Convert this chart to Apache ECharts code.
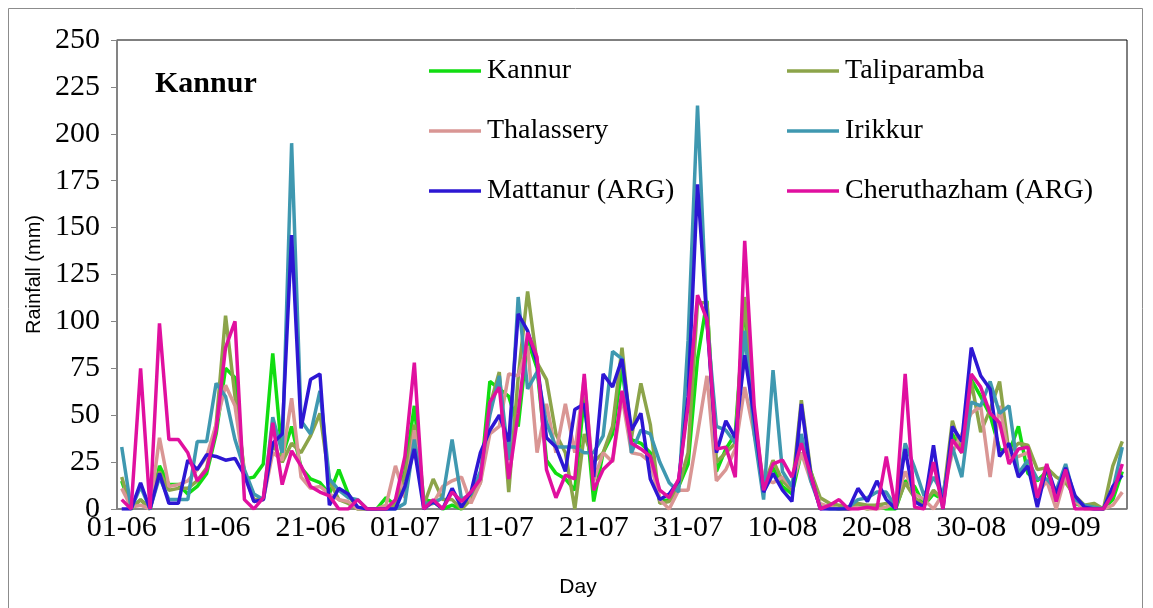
<!DOCTYPE html>
<html><head><meta charset="utf-8">
<script src="https://cdn.jsdelivr.net/npm/echarts@6/dist/echarts.min.js"></script>
<style>html,body{margin:0;padding:0;background:#fff}#c{width:1153px;height:608px}</style>
</head><body><div id="c"></div>
<script>
// categories: 01-06 ... 15-09
const categories = (function(){
  const out = [];
  const months = [["06",30],["07",31],["08",31],["09",15]];
  for (const [m,n] of months) for (let d=1; d<=n; d++) out.push((d<10?"0":"")+d+"-"+m);
  return out;
})();
const kannur = [15,0,5,0,23,13,13,8,12,19,40,75,70,16,17,24,83,28,44,22,16,14,8,21,8,0,0,0,6,2,20,55,5,4,0,2,0,7,15,68,64,60,44,90,75,26,19,16,10,60,4,30,40,75,37,35,30,4,5,12,24,80,111,20,32,40,110,45,12,22,12,8,30,20,2,1,0,0,2,0,2,0,0,15,12,2,8,5,40,30,69,60,50,32,30,44,19,15,20,8,18,3,1,1,0,5,20];
const taliparamba = [17,0,5,0,20,10,11,11,15,22,45,103,60,20,5,5,35,25,35,30,39,51,15,5,3,0,0,0,0,2,18,45,2,16,5,5,0,5,14,55,73,9,70,116,78,69,40,30,0,40,25,30,44,86,38,67,45,3,4,12,30,110,110,25,30,35,113,50,12,26,15,10,58,20,6,3,2,1,3,2,2,3,1,14,6,2,10,5,47,30,68,41,53,68,30,35,34,21,22,17,14,7,2,3,0,23,36];
const thalassery = [11,1,2,0,38,12,13,15,21,28,45,66,55,19,4,5,30,26,59,17,11,12,8,5,4,0,0,0,2,23,6,42,1,3,12,15,17,3,14,40,44,72,71,87,30,56,30,56,30,70,15,30,25,60,30,29,25,5,0,10,10,40,71,15,21,32,65,40,16,14,17,12,30,15,3,1,0,0,1,0,0,1,4,20,8,5,0,8,30,40,51,55,17,55,28,28,30,8,15,0,18,4,0,0,0,2,9];
const irikkur = [33,0,12,0,17,5,5,5,36,36,67,60,37,21,8,5,49,30,195,47,40,63,16,10,6,5,0,0,0,0,3,37,3,3,6,37,5,8,20,50,71,26,113,64,73,46,33,33,33,30,30,39,84,80,30,42,40,25,14,9,90,215,100,44,42,35,95,40,5,74,20,12,40,15,1,0,0,1,5,6,9,9,1,35,22,7,17,8,33,17,57,55,68,51,55,19,26,16,16,10,24,5,2,1,0,10,33];
const mattanur = [0,0,14,0,19,3,3,26,21,29,28,26,27,18,4,5,35,40,146,43,69,72,2,11,8,1,0,0,0,0,12,32,0,4,0,11,1,9,30,42,50,36,104,95,78,38,33,20,53,56,17,72,65,80,42,51,16,5,8,15,60,173,100,30,47,38,82,49,9,19,10,4,56,18,0,0,0,0,11,4,15,5,0,32,4,1,34,0,44,36,86,71,64,28,35,17,23,1,23,8,22,7,1,0,0,12,18];
const cheruthazham = [5,0,75,0,99,37,37,30,15,21,42,86,100,5,0,6,46,13,31,23,12,9,7,0,0,5,0,0,0,5,28,78,0,5,0,9,4,9,16,57,65,16,51,94,81,21,6,18,16,72,10,21,26,63,35,32,28,10,6,16,55,114,101,32,33,17,143,55,10,24,26,17,35,18,0,2,5,0,0,1,0,28,0,72,1,0,25,0,37,30,72,65,51,46,24,32,33,6,24,4,21,0,0,0,0,8,24];
const seriesNames = ["Kannur","Taliparamba","Thalassery","Irikkur","Mattanur (ARG)","Cheruthazham (ARG)"];
const seriesData = [kannur, taliparamba, thalassery, irikkur, mattanur, cheruthazham];
const colors = ["#11dd11","#8ca44a","#d99694","#3f98b0","#2d17d3","#e0109f"];

const serif = "'Liberation Serif', 'Times New Roman', serif";
const sans = "'Liberation Sans', Arial, sans-serif";
const chart = echarts.init(document.getElementById('c'), null, {renderer:'canvas'});
const legendCommon = {orient: 'vertical', top: 51, itemWidth: 52, itemHeight: 3.5, itemGap: 30, icon: 'rect',
  textStyle: {fontFamily: serif, fontSize: 28, lineHeight: 30, color: '#000', padding: [0,0,0,1]}};
chart.setOption({
  animation: false,
  backgroundColor: '#fff',
  title: {text: 'Kannur', left: 150, top: 64, textStyle: {fontFamily: serif, fontWeight: 'bold', fontSize: 30, color: '#000'}},
  legend: [
    Object.assign({left: 424, data: [seriesNames[0], seriesNames[2], seriesNames[4]]}, legendCommon),
    Object.assign({left: 782, data: [seriesNames[1], seriesNames[3], seriesNames[5]]}, legendCommon)
  ],
  grid: {left: 117, right: 26, top: 40, bottom: 99, show: true, borderColor: '#000', borderWidth: 1, containLabel: false},
  xAxis: {
    type: 'category', data: categories, boundaryGap: true,
    name: 'Day', nameLocation: 'middle', nameGap: 68,
    nameTextStyle: {fontFamily: sans, fontSize: 21, color: '#000', padding: [0, 88, 0, 0]},
    axisLine: {lineStyle: {color: '#868686', width: 1.5}},
    axisTick: {interval: 9, length: 6, lineStyle: {color: '#868686'}},
    axisLabel: {interval: 9, margin: 4, fontFamily: serif, fontSize: 30, color: '#000'}
  },
  yAxis: {
    type: 'value', min: 0, max: 250, interval: 25,
    name: 'Rainfall (mm)', nameLocation: 'middle', nameGap: 70, nameRotate: 90,
    nameTextStyle: {fontFamily: sans, fontSize: 20, color: '#000'},
    axisLine: {show: true, lineStyle: {color: '#868686', width: 1.5}},
    axisTick: {show: true, length: 6, lineStyle: {color: '#868686'}},
    splitLine: {show: false},
    axisLabel: {margin: 17, fontFamily: serif, fontSize: 30, color: '#000'}
  },
  series: seriesNames.map((n, k) => ({
    name: n, type: 'line', data: seriesData[k], symbol: 'none', showSymbol: false,
    lineStyle: {width: 3.5, color: colors[k]}, itemStyle: {color: colors[k]},
    z: 2 + k
  })),
  graphic: [{type: 'rect', shape: {x: 8.5, y: 8.5, width: 1134, height: 620}, style: {fill: 'none', stroke: '#8c8c8c', lineWidth: 1}, silent: true}]
});
</script></body></html>
